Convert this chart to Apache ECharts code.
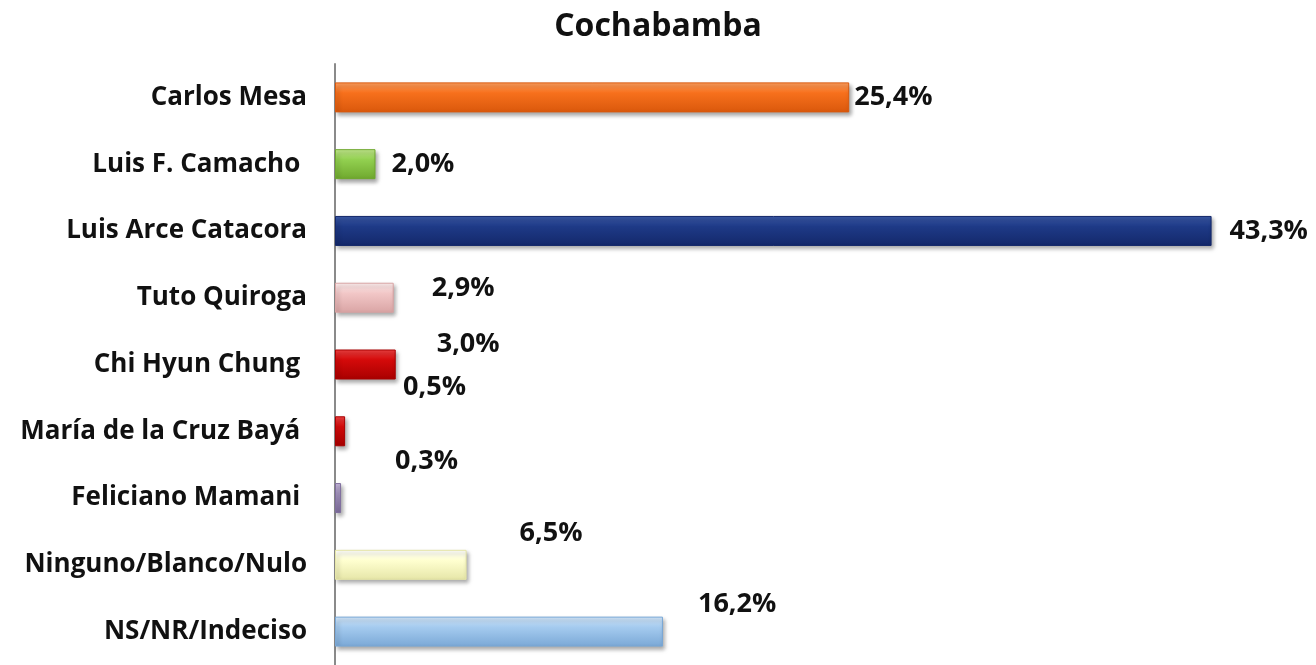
<!DOCTYPE html>
<html>
<head>
<meta charset="utf-8">
<script src="https://cdn.jsdelivr.net/npm/echarts@6/dist/echarts.min.js"></script>
<style>html,body{margin:0;padding:0;background:#fff}#c{width:1316px;height:665px}</style>
</head>
<body>
<div id="c"></div>
<script>
const categories = ["Carlos Mesa","Luis F. Camacho ","Luis Arce Catacora","Tuto Quiroga","Chi Hyun Chung ","María de la Cruz Bayá ","Feliciano Mamani ","Ninguno/Blanco/Nulo","NS/NR/Indeciso"];
const values = [25.4, 2.0, 43.3, 2.9, 3.0, 0.5, 0.3, 6.5, 16.2];
const labelTexts = ["25,4%","2,0%","43,3%","2,9%","3,0%","0,5%","0,3%","6,5%","16,2%"];
const barColors = [
  ["#FFA060","#F7701C","#DA580C"],
  ["#C4EA8E","#92D050","#6FA82E"],
  ["#3B5AA8","#1E3A87","#14286A"],
  ["#FFF0F0","#F2C7C7","#D9A4A4"],
  ["#F04040","#D40A0A","#A80000"],
  ["#F04040","#D40A0A","#A80000"],
  ["#C6B8DA","#A494BE","#7F6E9E"],
  ["#FFFFFF","#FFFFD0","#E6E6A8"],
  ["#D4E8FB","#A5CBEF","#7AA8D6"]
];
const labelOffsets = [[0,0],[11,0],[13,0],[33,-9],[36,-20],[53,-44],[49,-37],[48,-32],[30,-27]];

const chart = echarts.init(document.getElementById('c'));
const fontFam = '"Open Sans", sans-serif';
chart.setOption({
  animation: false,
  title: {
    text: 'Cochabamba', left: 'center', top: 6,
    textStyle: {fontFamily: fontFam, fontWeight: 'bold', fontSize: 32, color: '#111'}
  },
  grid: {left: 335, top: 64, bottom: -5, right: 70, containLabel: false},
  xAxis: {type: 'value', min: 0, max: 45, show: false, splitLine: {show: false}},
  yAxis: {
    type: 'category', data: categories, inverse: true,
    axisLine: {show: true, lineStyle: {color: '#8a8a8a', width: 2}},
    axisTick: {show: false},
    axisLabel: {margin: 28, fontFamily: fontFam, fontWeight: 'bold', fontSize: 26, color: '#111'}
  },
  series: [{
    type: 'bar',
    barWidth: 30,
    data: values.map((v, i) => ({
      value: v,
      itemStyle: {
        color: new echarts.graphic.LinearGradient(0, 0, 0, 1, [
          {offset: 0, color: barColors[i][0]},
          {offset: 0.35, color: barColors[i][1]},
          {offset: 1, color: barColors[i][2]}
        ]),
        borderColor: barColors[i][2], borderWidth: 1,
        shadowColor: 'rgba(0,0,0,0.35)', shadowBlur: 4, shadowOffsetX: 2, shadowOffsetY: 3
      },
      label: {
        show: true, position: 'right', distance: 5,
        offset: labelOffsets[i],
        formatter: () => labelTexts[i],
        fontFamily: fontFam, fontWeight: 'bold', fontSize: 27, color: '#111'
      }
    }))
  }]
});
</script>
</body>
</html>
